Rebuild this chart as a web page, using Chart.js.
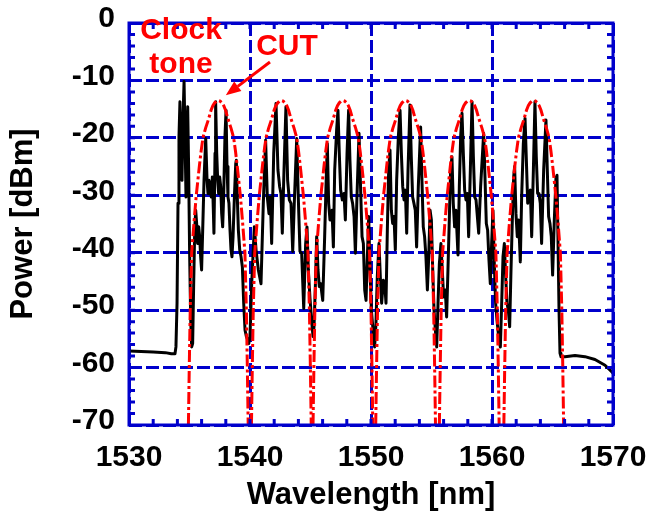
<!DOCTYPE html>
<html><head><meta charset="utf-8">
<script src="https://cdn.jsdelivr.net/npm/chart.js@4.4.0/dist/chart.umd.min.js"></script>
<style>html,body{margin:0;padding:0;background:#fff;} canvas{display:block;}</style>
</head><body>
<canvas id="c" width="648" height="511" style="width:648px;height:511px"></canvas>
<script>
// ---------- DATA ----------
const xTicks = [1530, 1540, 1550, 1560, 1570];
const yTicks = [0, -10, -20, -30, -40, -50, -60, -70];

// Measured spectrum (black trace): wavelength [nm] and power [dBm]
const traceWavelength = [
  // baseline, clock tone, channel 1
  1530.00,1531.00,1532.00,1533.00,1533.50,1533.80,1533.88,1533.97,1534.05,1534.13,
  1534.21,1534.30,1534.38,1534.46,1534.55,1534.63,1534.71,1534.79,1534.85,1534.93,
  1535.01,1535.10,1535.18,1535.26,1535.34,1535.43,1535.51,1535.59,1535.67,1535.76,
  1535.84,1535.92,1536.00,1536.09,1536.20,1536.34,1536.45,1536.53,1536.61,1536.69,
  1536.80,1536.89,1536.97,1537.02,1537.11,1537.16,1537.25,1537.33,1537.41,1537.49,
  1537.58,1537.66,1537.74,1537.82,1537.93,1538.02,1538.10,1538.18,1538.26,1538.35,
  1538.43,1538.51,1538.60,1538.71,1538.82,1538.87,1538.95,1539.04,1539.15,1539.26,
  1539.37,1539.48,1539.59,1539.70,1539.81,1539.90,1540.00,
  // channel 2
  1540.14,1540.36,1540.50,1540.69,1540.91,1541.10,1541.29,1541.43,1541.57,1541.68,
  1541.79,1541.96,1542.15,1542.31,1542.45,1542.56,1542.67,1542.81,1542.97,1543.11,
  1543.25,1543.39,1543.53,1543.66,1543.86,1543.99,1544.13,1544.27,1544.44,1544.60,
  1544.71,1544.82,1544.96,1545.10,1545.21,
  // channel 3
  1545.29,1545.40,1545.51,1545.62,1545.73,1545.84,1546.01,1546.17,1546.28,1546.39,
  1546.50,1546.61,1546.78,1546.89,1547.00,1547.16,1547.27,1547.38,1547.49,1547.63,
  1547.77,1547.88,1548.02,1548.15,1548.26,1548.37,1548.48,1548.60,1548.71,1548.84,
  1549.01,1549.12,1549.26,1549.37,1549.48,1549.59,1549.70,1549.81,1549.92,1550.03,
  1550.17,1550.30,
  // channel 4
  1550.41,1550.52,1550.66,1550.77,1550.88,1551.02,1551.13,1551.24,1551.35,1551.46,
  1551.57,1551.68,1551.79,1551.90,1552.01,1552.12,1552.26,1552.40,1552.51,1552.62,
  1552.73,1552.84,1552.95,1553.06,1553.22,1553.33,1553.44,1553.55,1553.66,1553.77,
  1553.91,1554.10,1554.21,1554.32,1554.43,1554.54,1554.66,1554.77,1554.88,1554.99,
  1555.10,1555.21,1555.32,1555.43,
  // channel 5
  1555.54,1555.65,1555.78,1555.89,1556.00,1556.14,1556.25,1556.36,1556.47,1556.58,
  1556.69,1556.80,1556.91,1557.02,1557.19,1557.30,1557.41,1557.52,1557.63,1557.74,
  1557.85,1557.96,1558.07,1558.21,1558.35,1558.46,1558.57,1558.68,1558.79,1558.90,
  1559.06,1559.31,1559.42,1559.53,1559.64,1559.75,1559.86,1559.97,1560.08,1560.19,
  1560.30,1560.41,1560.55,1560.69,
  // channel 6 and tail
  1560.80,1560.91,1561.02,1561.13,1561.24,1561.35,1561.46,1561.57,1561.68,1561.79,
  1561.87,1561.98,1562.09,1562.20,1562.34,1562.45,1562.59,1562.73,1562.84,1562.95,
  1563.06,1563.17,1563.28,1563.42,1563.55,1563.66,1563.77,1563.88,1563.99,1564.10,
  1564.27,1564.46,1564.57,1564.68,1564.79,1564.90,1565.01,1565.15,1565.29,1565.37,
  1565.45,1565.54,1565.62,1565.70,1566.03,1566.86,1567.68,1568.51,1569.34,1569.89,
  1570.00
];
const tracePower = [
  -57.1,-57.2,-57.3,-57.4,-57.6,-57.6,-56.4,-48.8,-31.4,-19.8,
  -13.7,-22.7,-27.4,-16.9,-10.2,-19.8,-30.3,-19.8,-14.6,-25.6,
  -40.1,-51.7,-56.4,-55.8,-46.0,-36.1,-32.6,-34.9,-38.4,-35.5,
  -37.2,-40.7,-43.0,-36.1,-27.4,-20.1,-27.4,-29.7,-27.4,-28.5,
  -30.3,-26.8,-32.6,-36.6,-22.7,-13.7,-22.7,-27.4,-29.7,-26.8,
  -28.5,-33.2,-35.5,-30.3,-19.8,-15.2,-25.0,-30.3,-31.4,-36.1,
  -39.5,-40.7,-37.2,-30.3,-24.5,-23.9,-30.3,-36.1,-39.5,-40.7,
  -42.5,-48.8,-53.5,-54.6,-55.2,-55.8,-54.6,
  -45.4,-35.5,-39.5,-43.0,-45.4,-31.4,-20.4,-30.3,-33.2,-30.3,
  -38.4,-22.7,-14.0,-25.6,-28.5,-29.7,-36.6,-25.6,-14.6,-27.4,
  -30.8,-31.4,-39.8,-31.4,-20.1,-30.3,-39.8,-40.1,-49.7,-38.4,
  -35.5,-43.0,-48.0,-52.0,-54.6,
  -52.9,-45.9,-37.2,-43.0,-45.9,-45.4,-48.3,-37.2,-28.5,-21.0,
  -31.4,-34.3,-32.6,-39.0,-25.6,-18.6,-15.2,-22.7,-29.1,-30.8,
  -29.7,-34.3,-22.7,-15.2,-23.9,-30.3,-31.4,-33.7,-40.1,-30.3,
  -19.2,-27.4,-37.2,-38.4,-46.5,-48.3,-40.7,-33.7,-43.0,-50.0,
  -53.5,-56.4,
  -52.3,-44.2,-38.4,-44.2,-48.8,-44.8,-45.4,-48.8,-36.1,-25.6,
  -22.1,-32.6,-34.9,-33.7,-39.5,-27.4,-19.8,-15.2,-22.7,-28.5,
  -30.8,-29.1,-36.6,-25.6,-14.3,-23.3,-30.3,-31.4,-32.6,-39.0,
  -28.5,-18.1,-27.4,-35.5,-37.2,-40.7,-46.5,-40.7,-32.6,-34.3,
  -43.0,-50.0,-53.5,-56.4,
  -48.8,-41.9,-38.4,-43.0,-47.7,-46.5,-51.2,-43.0,-34.3,-25.6,
  -23.3,-31.4,-35.5,-32.6,-40.4,-28.5,-19.8,-15.7,-22.7,-29.1,
  -30.8,-29.7,-37.2,-25.6,-13.7,-23.3,-30.3,-30.8,-33.7,-36.6,
  -28.5,-19.2,-26.8,-34.9,-36.1,-41.3,-45.4,-38.4,-32.6,-41.9,
  -48.8,-51.7,-54.6,-56.4,
  -48.8,-40.7,-38.4,-44.2,-48.8,-50.0,-52.9,-43.0,-34.3,-26.8,
  -25.0,-33.2,-37.2,-34.3,-41.6,-30.3,-21.0,-16.6,-23.9,-31.4,
  -29.7,-29.1,-37.2,-25.6,-13.7,-23.3,-29.7,-29.7,-31.4,-38.4,
  -25.6,-16.9,-25.6,-33.7,-34.9,-37.2,-43.9,-34.3,-26.8,-26.5,
  -37.2,-50.0,-57.5,-58.1,-58.1,-57.9,-58.1,-58.6,-59.6,-60.7,
  -61.0
];

// Channel-under-test envelopes (red dashed): power profile shared, wavelengths per channel
const envelopePower = [-70,-60,-50,-40,-34.5,-30,-25,-22.3,-20,-18.3,-16.9,-15.2,-14.4,-13.9,-13.6,-13.5,
  -13.6,-13.9,-14.4,-15.2,-16.9,-18.3,-20,-22.3,-25,-30,-34.5,-40,-50,-60,-70];
const envWl1 = [1534.91,1534.98,1535.06,1535.18,1535.38,1535.56,1535.81,1535.96,1536.11,1536.33,1536.55,1536.78,1536.93,1537.08,1537.23,1537.38,
  1537.53,1537.68,1537.83,1537.98,1538.21,1538.43,1538.65,1538.80,1538.95,1539.20,1539.38,1539.58,1539.70,1539.78,1539.85];
const envWl2 = [1540.12,1540.19,1540.27,1540.39,1540.59,1540.77,1541.02,1541.17,1541.32,1541.54,1541.76,1541.99,1542.14,1542.29,1542.44,1542.59,
  1542.74,1542.89,1543.04,1543.19,1543.42,1543.64,1543.86,1544.01,1544.16,1544.41,1544.59,1544.79,1544.91,1544.99,1545.06];
const envWl3 = [1545.21,1545.28,1545.36,1545.48,1545.68,1545.86,1546.11,1546.26,1546.41,1546.63,1546.85,1547.08,1547.23,1547.38,1547.53,1547.68,
  1547.83,1547.98,1548.13,1548.28,1548.51,1548.73,1548.95,1549.10,1549.25,1549.50,1549.68,1549.88,1550.00,1550.08,1550.15];
const envWl4 = [1550.39,1550.46,1550.54,1550.66,1550.86,1551.04,1551.29,1551.44,1551.59,1551.81,1552.03,1552.26,1552.41,1552.56,1552.71,1552.86,
  1553.01,1553.16,1553.31,1553.46,1553.69,1553.91,1554.13,1554.28,1554.43,1554.68,1554.86,1555.06,1555.18,1555.26,1555.33];
const envWl5 = [1555.65,1555.72,1555.80,1555.92,1556.12,1556.30,1556.55,1556.70,1556.85,1557.07,1557.29,1557.52,1557.67,1557.82,1557.97,1558.12,
  1558.27,1558.42,1558.57,1558.72,1558.95,1559.17,1559.39,1559.54,1559.69,1559.94,1560.12,1560.32,1560.44,1560.52,1560.59];
const envWl6 = [1560.98,1561.05,1561.13,1561.25,1561.45,1561.63,1561.88,1562.03,1562.18,1562.40,1562.62,1562.85,1563.00,1563.15,1563.30,1563.45,
  1563.60,1563.75,1563.90,1564.05,1564.28,1564.50,1564.72,1564.87,1565.02,1565.27,1565.45,1565.65,1565.77,1565.85,1565.92];
const envelopeWavelengths = [envWl1, envWl2, envWl3, envWl4, envWl5, envWl6];

// Annotation anchors (data units)
const clockLabel = {x: 1534.3, lines: [['Clock', -2.8], ['tone', -8.7]]};
const cutLabel = {x: 1543.06, y: -5.6, text: 'CUT'};
const cutArrow = {from: [1541.65, -6.8], to: [1538.0, -12.6]};

// ---------- STYLE ----------
const BLUE = '#0000cc';
const RED = '#ff0000';
const FONT = "'Liberation Sans', Arial, Helvetica, sans-serif";

const zip = (xs, ys) => xs.map((v, i) => ({x: v, y: ys[i]}));

const datasets = envelopeWavelengths.map(wl => ({
  data: zip(wl, envelopePower),
  borderColor: RED, borderWidth: 3, borderDash: [12, 3, 3, 3],
  pointRadius: 0, fill: false, tension: 0, order: 0
}));
datasets.push({
  data: zip(traceWavelength, tracePower),
  borderColor: '#000000', borderWidth: 3, pointRadius: 0, fill: false, tension: 0, order: 1,
  borderJoinStyle: 'round'
});

const framePlugin = {
  id: 'frame',
  afterDatasetsDraw(chart) {
    const {ctx, chartArea: a, scales: {x, y}} = chart;
    ctx.save();
    ctx.setLineDash([]);
    ctx.strokeStyle = BLUE;
    ctx.lineWidth = 3;
    ctx.beginPath();
    for (let v = 1532; v < 1570; v += 2) {
      const px = x.getPixelForValue(v);
      ctx.moveTo(px, a.bottom); ctx.lineTo(px, a.bottom - 6);
      ctx.moveTo(px, a.top); ctx.lineTo(px, a.top + 6);
    }
    for (let v = -68; v < 0; v += 2) {
      const py = y.getPixelForValue(v);
      ctx.moveTo(a.left, py); ctx.lineTo(a.left + 6, py);
      ctx.moveTo(a.right, py); ctx.lineTo(a.right - 6, py);
    }
    ctx.stroke();
    ctx.strokeRect(a.left, a.top, a.right - a.left, a.bottom - a.top);
    ctx.restore();
  },
  afterDraw(chart) {
    const {ctx, scales: {x, y}} = chart;
    ctx.save();
    ctx.fillStyle = RED;
    ctx.font = "bold 30px " + FONT;
    ctx.textAlign = 'center';
    ctx.textBaseline = 'alphabetic';
    clockLabel.lines.forEach(([t, v]) => ctx.fillText(t, x.getPixelForValue(clockLabel.x), y.getPixelForValue(v)));
    ctx.fillText(cutLabel.text, x.getPixelForValue(cutLabel.x), y.getPixelForValue(cutLabel.y));
    // arrow
    const x1 = x.getPixelForValue(cutArrow.from[0]), y1 = y.getPixelForValue(cutArrow.from[1]);
    const x2 = x.getPixelForValue(cutArrow.to[0]), y2 = y.getPixelForValue(cutArrow.to[1]);
    const ang = Math.atan2(y2 - y1, x2 - x1);
    const hl = 15, hw = 6;
    const bx = x2 - hl * Math.cos(ang), by = y2 - hl * Math.sin(ang);
    ctx.strokeStyle = RED; ctx.lineWidth = 3;
    ctx.beginPath(); ctx.moveTo(x1, y1); ctx.lineTo(bx, by); ctx.stroke();
    ctx.beginPath();
    ctx.moveTo(x2, y2);
    ctx.lineTo(bx + hw * Math.sin(ang), by - hw * Math.cos(ang));
    ctx.lineTo(bx - hw * Math.sin(ang), by + hw * Math.cos(ang));
    ctx.closePath(); ctx.fill();
    ctx.restore();
  }
};

new Chart(document.getElementById('c'), {
  type: 'line',
  data: {datasets},
  options: {
    responsive: false,
    animation: false,
    layout: {padding: {top: 23, right: 35, left: 0, bottom: 0}},
    plugins: {legend: {display: false}, tooltip: {enabled: false}},
    scales: {
      x: {
        type: 'linear', min: 1530, max: 1570,
        afterBuildTicks: s => { s.ticks = xTicks.map(v => ({value: v})); },
        afterFit: s => { s.height = 86; s.paddingLeft = 0; s.paddingRight = 0; },
        ticks: {color: '#000', font: {family: FONT, size: 30, weight: 'bold'}, padding: 15, maxRotation: 0, autoSkip: false,
                callback: v => String(v)},
        grid: {color: BLUE, lineWidth: 3, drawTicks: false},
        border: {display: false, dash: [13, 4]},
        title: {display: true, text: 'Wavelength [nm]', color: '#000', font: {family: FONT, size: 31, weight: 'bold', lineHeight: 1.0}, padding: {top: 0, bottom: 0}}
      },
      y: {
        type: 'linear', min: -70, max: 0,
        afterBuildTicks: s => { s.ticks = yTicks.map(v => ({value: v})); },
        afterFit: s => { s.width = 129; s.paddingTop = 0; s.paddingBottom = 0; },
        ticks: {color: '#000', font: {family: FONT, size: 30, weight: 'bold'}, padding: 14, autoSkip: false, labelOffset: -4,
                callback: v => String(v)},
        grid: {color: BLUE, lineWidth: 3, drawTicks: false},
        border: {display: false, dash: [13, 4]},
        title: {display: true, text: 'Power [dBm]', color: '#000', font: {family: FONT, size: 31, weight: 'bold'}, padding: {top: 5, bottom: 0}}
      }
    }
  },
  plugins: [framePlugin]
});
</script>
</body></html>
